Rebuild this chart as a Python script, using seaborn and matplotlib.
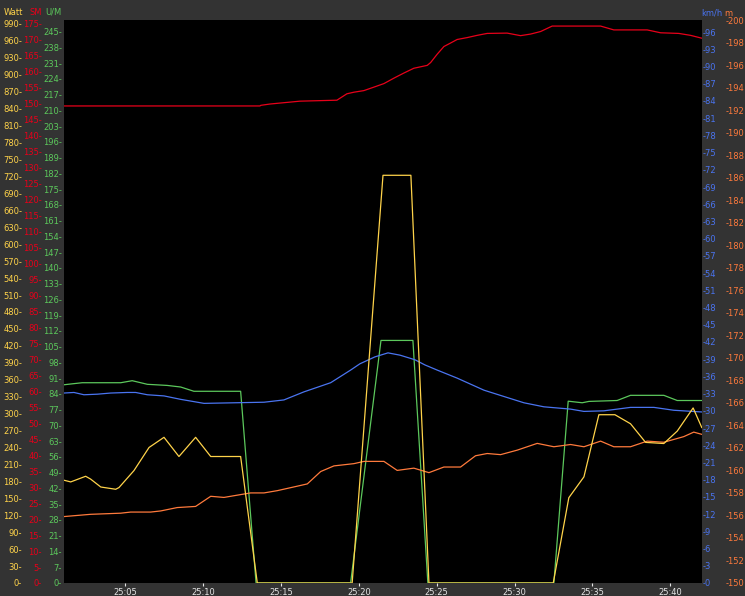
import matplotlib
matplotlib.use("Agg")
import matplotlib.pyplot as plt
import seaborn as sns
from matplotlib.ticker import FixedLocator, FuncFormatter

# ---------------- data (time = minutes after 25:00) ----------------
sm_t = [1.07, 13.65, 13.71, 14.29, 14.93, 15.58, 16.22, 18.59, 19.23, 19.68, 20.32, 20.97,
        21.61, 22.25, 22.89, 23.53, 24.39, 24.61, 25.03, 25.46, 25.89, 26.31, 26.96, 27.60,
        28.24, 29.52, 30.38, 31.03, 31.67, 32.41, 35.52, 36.37, 38.51, 39.37, 40.54, 41.29, 42.02]
sm_v = [149.3, 149.3, 149.5, 149.9, 150.2, 150.5, 150.8, 151.1, 153.1, 153.6, 154.1, 155.2,
        156.3, 158.0, 159.6, 161.1, 162.0, 162.9, 165.5, 167.9, 169.0, 170.1, 170.7, 171.4,
        172.0, 172.1, 171.3, 171.8, 172.6, 174.3, 174.3, 173.1, 173.1, 172.2, 172.0, 171.4, 170.5]

um_t = [1.07, 1.71, 2.24, 4.71, 5.45, 6.42, 7.70, 8.56, 9.41, 12.41, 13.40, 19.47,
        21.42, 23.47, 24.43, 32.52, 33.44, 34.34, 34.77, 36.58, 37.44, 39.58, 40.44, 42.02]
um_v = [88.1, 88.6, 89.0, 89.0, 89.9, 88.3, 87.8, 87.1, 85.2, 85.2, 0, 0,
        107.8, 107.8, 0, 0, 80.8, 80.1, 80.7, 81.1, 83.4, 83.4, 81.1, 81.1]

watt_t = [1.07, 1.50, 2.46, 2.78, 3.43, 4.39, 4.60, 5.56, 6.53, 7.49, 8.45, 9.52, 10.49,
          12.41, 13.48, 19.57, 21.55, 23.34, 24.50, 32.48, 33.48, 34.45, 35.41, 36.44,
          37.44, 38.41, 39.58, 40.44, 41.46, 42.02]
watt_v = [182, 179, 189, 184, 170, 166, 169, 199, 240, 258, 224, 258, 224,
          224, 0, 0, 722, 722, 0, 0, 151, 188, 298, 298,
          282, 249, 247, 269, 310, 275]

kmh_t = [1.07, 1.71, 2.35, 3.21, 4.07, 5.13, 5.67, 6.42, 7.49, 8.56, 10.06, 11.98, 13.91,
         15.19, 16.47, 18.19, 19.47, 20.07, 21.03, 21.87, 22.64, 23.60, 24.24, 25.03, 26.31,
         28.03, 29.31, 30.60, 31.88, 33.59, 34.45, 35.73, 37.44, 38.94, 40.22, 42.02]
kmh_v = [33.1, 33.2, 32.8, 32.9, 33.1, 33.2, 33.2, 32.8, 32.6, 32.0, 31.3, 31.4, 31.5,
         31.9, 33.3, 34.9, 37.1, 38.2, 39.4, 40.1, 39.7, 38.9, 38.0, 37.1, 35.7,
         33.6, 32.5, 31.4, 30.7, 30.3, 29.9, 30.0, 30.6, 30.6, 30.1, 29.8]

alt_t = [1.07, 1.92, 2.78, 4.71, 5.35, 5.99, 6.63, 7.28, 8.34, 9.52, 10.49, 11.34, 12.19,
         13.05, 13.91, 14.76, 16.05, 16.69, 17.55, 18.40, 19.68, 20.33, 21.61, 22.46, 23.53,
         24.50, 25.46, 26.53, 27.49, 28.24, 29.10, 30.17, 31.45, 32.52, 33.59, 34.45, 35.52,
         36.37, 37.44, 38.51, 39.58, 40.86, 41.50, 42.02]
alt_v = [155.9, 156.0, 156.1, 156.2, 156.3, 156.3, 156.3, 156.4, 156.7, 156.8, 157.7, 157.6, 157.8,
         158.0, 158.0, 158.2, 158.6, 158.8, 159.9, 160.4, 160.6, 160.8, 160.8, 160.0, 160.2,
         159.8, 160.3, 160.3, 161.3, 161.5, 161.4, 161.8, 162.4, 162.1, 162.3, 162.1, 162.6,
         162.1, 162.1, 162.6, 162.5, 163.0, 163.4, 163.2]

x_ticks = [5, 10, 15, 20, 25, 30, 35, 40]
x_labels = ["25:05", "25:10", "25:15", "25:20", "25:25", "25:30", "25:35", "25:40"]

watt_ticks = list(range(0, 991, 30))
sm_ticks = list(range(0, 176, 5))
um_ticks = list(range(0, 246, 7))
kmh_ticks = list(range(0, 97, 3))
alt_ticks = list(range(150, 201, 2))

# ---------------- style ----------------
BG = "#333333"
C_W = "#FFD34A"
C_SM = "#E8001A"
C_UM = "#5CC85C"
C_KMH = "#4A74F0"
C_M = "#FF7A3C"
C_X = "#E6E6E6"

sns.set_theme(style="dark", rc={"axes.facecolor": "black", "figure.facecolor": BG})
plt.rcParams['font.family'] = ['DejaVu Sans']
FS = 6

fig = plt.figure(figsize=(7.45, 5.96), dpi=100, facecolor=BG)
ax = fig.add_axes([64 / 745, 13 / 596, 638 / 745, 563 / 596])
ax.set_facecolor("black")

ax_kmh = ax.twinx()
ax_m = ax.twinx()
ax_sm = ax.twinx()
ax_w = ax.twinx()

LW = 0.9
sns.lineplot(x=um_t, y=um_v, ax=ax, color=C_UM, linewidth=LW, estimator=None, sort=False)
sns.lineplot(x=kmh_t, y=kmh_v, ax=ax_kmh, color=C_KMH, linewidth=LW, estimator=None, sort=False)
sns.lineplot(x=alt_t, y=alt_v, ax=ax_m, color=C_M, linewidth=LW, estimator=None, sort=False)
sns.lineplot(x=sm_t, y=sm_v, ax=ax_sm, color=C_SM, linewidth=LW, estimator=None, sort=False)
sns.lineplot(x=watt_t, y=watt_v, ax=ax_w, color=C_W, linewidth=LW, estimator=None, sort=False)

ax.set_xlim(1.07, 42.03)
ax.xaxis.set_major_locator(FixedLocator(x_ticks))
ax.set_xticklabels(x_labels)
ax.tick_params(axis="x", colors=C_X, labelcolor=C_X, length=2, width=0.8, pad=1.5,
               labelsize=FS, bottom=True)
ax.set_xlabel("")

specs = [
    # axis, ticks, ylim, color, side, pad(pt), fmt, label, label_x, label_y
    (ax, um_ticks, (0, 250.2), C_UM, "left", 1.4, "{:d}-", "U/M", -0.0165, 1.0142),
    (ax_sm, sm_ticks, (0, 176.2), C_SM, "left", 15.8, "{:d}-", "SM", -0.0447, 1.0142),
    (ax_w, watt_ticks, (0, 997), C_W, "left", 30.2, "{:d}-", "Watt", -0.0792, 1.0142),
    (ax_kmh, kmh_ticks, (0, 98.1), C_KMH, "right", 0.7, "-{:d}", "km/h", 1.0149, 1.0124),
    (ax_m, alt_ticks, (150, 200), C_M, "right", 17.3, "-{:d}", "m", 1.0415, 1.0124),
]
for a, ticks, lim, col, side, pad, fmt, lab, lx, ly in specs:
    a.set_ylim(*lim)
    a.yaxis.set_major_locator(FixedLocator(ticks))
    a.yaxis.set_major_formatter(FuncFormatter(lambda v, p, f=fmt: f.format(int(round(v)))))
    if side == "left":
        a.yaxis.tick_left()
        a.yaxis.set_label_position("left")
        a.tick_params(axis="y", left=True, right=False, labelleft=True, labelright=False,
                      length=0, pad=pad, labelcolor=col, labelsize=FS)
    else:
        a.yaxis.tick_right()
        a.yaxis.set_label_position("right")
        a.tick_params(axis="y", left=False, right=True, labelleft=False, labelright=True,
                      length=0, pad=pad, labelcolor=col, labelsize=FS)
    a.set_ylabel(lab, rotation=0, color=col, fontsize=FS, ha="center", va="center")
    a.yaxis.set_label_coords(lx, ly)
    a.grid(False)
    for s in a.spines.values():
        s.set_visible(False)

fig.savefig("out.png", dpi=100, facecolor=BG)
